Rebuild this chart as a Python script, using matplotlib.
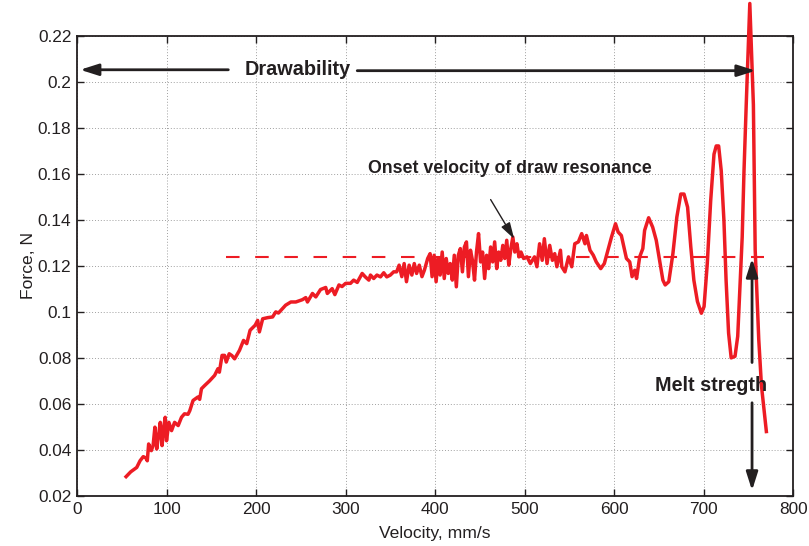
import numpy as np
import matplotlib.pyplot as plt

plt.rcParams['font.family'] = ['Liberation Sans', 'DejaVu Sans']

RED = '#ed1c24'
INK = '#231f20'

velocity = [
    54.8, 60, 66.7, 70.4, 74, 77, 78.5, 80, 83, 85, 87, 89, 91, 93, 95, 97, 98.5, 100,
    102.6, 105.6, 109, 113, 116.7, 120, 124, 126, 129.6, 135, 137, 139, 142.6, 148,
    153.7, 157.4, 159, 162, 164.8, 166.7, 170, 173, 176, 181.5, 186, 189.6, 193.3,
    199, 201.8, 203.7, 207.4, 213, 218.5, 222, 225, 227.8, 233, 238.9, 244.4, 251.8,
    255.5, 257.4, 263, 266.7, 272, 277.8, 279.6, 285, 288, 292.6, 296, 300, 305.5,
    309, 313, 318.5, 322, 326, 327.8, 331.4, 335, 339, 342.6, 346, 350, 353.7, 357,
    359.8, 362.8, 365.4, 368, 371, 374, 376.7, 379.3, 382.3, 385.3, 388, 391.7, 394.4,
    396.6, 398.9, 401.1, 403.4, 405.6, 407.9, 410.2, 412.4, 414.7, 416.9, 419.2,
    421.4, 423.7, 425.9, 428.2, 430.5, 432.7, 435, 437.2, 439.5, 441.7, 444, 446.2,
    448.5, 450.8, 453, 455.3, 457.5, 459.8, 462, 464.3, 466.5, 468.8, 471, 473.3,
    475.6, 477.8, 480, 482.3, 484.6, 486.8, 489, 491.4, 493.6, 495.9, 498.9, 502.6,
    506.4, 511, 513.7, 516.7, 519.6, 522,
    525, 528, 531, 533.6, 536, 540, 541.5, 545, 549, 552.6, 556, 560, 563.7, 567.4,
    569, 573, 576.7, 580, 585, 589, 593, 597, 601.5, 604.4, 608, 613.7, 617.4, 620,
    623, 625, 628.5, 632, 634, 638.5, 643, 647, 650.7, 654.4, 657, 661, 665.6, 670,
    674.4, 678, 682, 685.6, 689, 693, 697.4, 700.4, 704, 707.8, 711.5, 714, 716.7,
    719.6, 722.6, 725, 727.8, 730.7, 735, 738, 740.5, 743, 745, 747.5, 751.5, 755.5,
    757.5, 761.5, 764.5, 770,
]
force = [
    0.0284, 0.0305, 0.0324, 0.0353, 0.0371, 0.0365, 0.0353, 0.0426, 0.0397, 0.0420,
    0.0499, 0.0404, 0.0460, 0.0520, 0.0419, 0.0500, 0.0542, 0.0440, 0.0520, 0.0484,
    0.0520, 0.0506, 0.0542, 0.0557, 0.0555, 0.0571, 0.0615, 0.0630, 0.0620, 0.0666,
    0.0680, 0.0700, 0.0724, 0.0753, 0.0738, 0.0811, 0.0811, 0.0782, 0.0818, 0.0810,
    0.0796, 0.0833, 0.0876, 0.0862, 0.0920, 0.0942, 0.0963, 0.0913, 0.0970, 0.0975,
    0.0978, 0.1000, 0.0995, 0.1007, 0.1029, 0.1043, 0.1043, 0.1053, 0.1062, 0.1043,
    0.1080, 0.1065, 0.1097, 0.1106, 0.1080, 0.1101, 0.1075, 0.1117, 0.1110, 0.1124,
    0.1124, 0.1138, 0.1128, 0.1167, 0.1152, 0.1138, 0.1160, 0.1145, 0.1160, 0.1152,
    0.1170, 0.1152, 0.1160, 0.1174, 0.1174,
    0.1203, 0.1153, 0.1210, 0.1131, 0.1203, 0.1160, 0.1210, 0.1167, 0.1203, 0.1153,
    0.1181, 0.1232, 0.1253, 0.1153, 0.1246, 0.1131, 0.1232, 0.1160, 0.1260, 0.1145,
    0.1232, 0.1167, 0.1210, 0.1138, 0.1246, 0.1109, 0.1246, 0.1275, 0.1174, 0.1282,
    0.1304, 0.1153, 0.1268, 0.1224, 0.1138, 0.1260, 0.1340, 0.1217, 0.1260, 0.1145,
    0.1246, 0.1188, 0.1282, 0.1217, 0.1304, 0.1188, 0.1260, 0.1224, 0.1289, 0.1232,
    0.1311, 0.1203, 0.1275, 0.1325, 0.1260, 0.1296, 0.1239, 0.1260, 0.1232, 0.1239,
    0.1210, 0.1239, 0.1196, 0.1296, 0.1224, 0.1318,
    0.1210, 0.1289, 0.1224, 0.1253, 0.1196, 0.1268, 0.1196, 0.1174, 0.1239,
    0.1196, 0.1296, 0.1304, 0.1340, 0.1296, 0.1332, 0.1268, 0.1246, 0.1217, 0.1188,
    0.1210, 0.1268, 0.1325, 0.1383, 0.1347, 0.1332, 0.1232, 0.1217, 0.1153, 0.1181,
    0.1145, 0.1239, 0.1275, 0.1354, 0.1409, 0.1368, 0.1311, 0.1224, 0.1138, 0.1117,
    0.1131, 0.1253, 0.1412, 0.1512, 0.1512, 0.1455, 0.1282, 0.1138, 0.1045, 0.0994,
    0.1023, 0.1210, 0.1483, 0.1685, 0.1721, 0.1721, 0.1613, 0.1397, 0.1138, 0.0908,
    0.0800, 0.0807, 0.0894, 0.1110, 0.1325, 0.1610, 0.1900, 0.2340, 0.1900, 0.1270,
    0.0880, 0.0680, 0.0480,
]

onset_level = 0.1238
onset_span = [166, 767]

fig = plt.figure(figsize=(8.09, 5.46), dpi=100)
ax = fig.add_axes([0.0952, 0.0916, 0.8853, 0.843])

ax.plot(onset_span, [onset_level, onset_level], color=RED, lw=1.5, dashes=(6.5, 7.5))
ax.plot(velocity, force, color=RED, lw=2.5, clip_on=False, zorder=3)

ax.set_xlim(0, 800)
ax.set_ylim(0.02, 0.22)
ax.set_xticks(range(0, 801, 100))
ax.set_yticks(np.arange(0.02, 0.221, 0.02))
ax.set_yticklabels(['0.02', '0.04', '0.06', '0.08', '0.1', '0.12', '0.14',
                    '0.16', '0.18', '0.2', '0.22'])
ax.grid(True, ls=(0, (1, 2)), color='#a0a0a0', lw=0.7)
ax.tick_params(direction='in', top=True, right=True, length=5, width=1,
               labelsize=12.4, colors=INK, pad=4)
for s in ax.spines.values():
    s.set_linewidth(1.3)
    s.set_color(INK)

ax.set_xlabel('Velocity, mm/s', fontsize=12.6, color=INK, labelpad=7)
ax.set_ylabel('Force, N', fontsize=12.6, color=INK, labelpad=1)

arrow = dict(arrowstyle='-|>,head_length=1.1,head_width=0.35', lw=2, color=INK,
             shrinkA=0, shrinkB=0)
thin_arrow = dict(arrowstyle='-|>,head_length=1.0,head_width=0.3', lw=1, color=INK,
                  shrinkA=0, shrinkB=0)

# drawability
ax.annotate('', xy=(3.5, 0.2052), xytext=(169, 0.2052), arrowprops=arrow,
            annotation_clip=False)
ax.annotate('', xy=(758, 0.2048), xytext=(313, 0.2048), arrowprops=arrow,
            annotation_clip=False)
ax.text(246, 0.2052, 'Drawability', fontsize=14.3, fontweight='bold', color=INK,
        ha='center', va='center')

# onset of draw resonance
ax.annotate('', xy=(488.3, 0.1317), xytext=(462, 0.1488), arrowprops=thin_arrow)
ax.text(484, 0.1625, 'Onset velocity of draw resonance', fontsize=12.8,
        fontweight='bold', color=INK, ha='center', va='center')

# melt strength
ax.annotate('', xy=(754, 0.1232), xytext=(754, 0.078), arrowprops=arrow)
ax.annotate('', xy=(754, 0.0224), xytext=(754, 0.0605), arrowprops=arrow)
ax.text(708.5, 0.068, 'Melt stregth', fontsize=14.2, fontweight='bold', color=INK,
        ha='center', va='center')

plt.savefig('out.png')
